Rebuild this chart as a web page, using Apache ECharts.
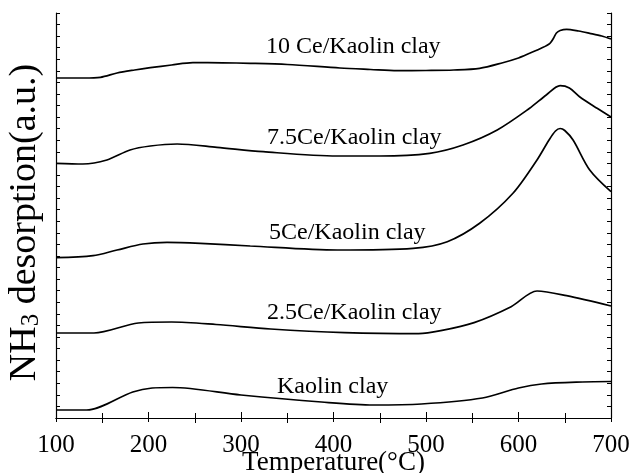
<!DOCTYPE html>
<html><head><meta charset="utf-8">
<script src="https://cdn.jsdelivr.net/npm/echarts@6/dist/echarts.min.js"></script>
<style>html,body{margin:0;padding:0;background:#fff}#c{width:631px;height:473px}</style>
</head><body><div id="c"></div>
<script>
// Temperature (°C) vs NH3 desorption (a.u.)
const ce10 = [[100,340],[130,340],[148,340.7],[166,345],[185,348],[202,350.3],[225,353],[248,355.3],[280,355.2],[310,354.7],[350,353.5],[407,350],[440,348.5],[469,347.3],[500,347.5],[530,348],[558,349.7],[583,355.3],[600,360],[612,364.7],[625,370],[634,374.7],[638,380],[641,385],[645,387.5],[652,388.7],[665,387],[677,384.7],[690,382],[700,379]];
const ce75 = [[100,254.7],[129,254],[155,258],[180,268],[202,272],[231,274],[274,270.7],[324,266.3],[404,262],[450,262],[504,264.7],[540,273],[577,288],[612,309.7],[630,323],[645,332.3],[655,330],[666,321.3],[685,309.7],[700,301]];
const ce5 = [[100,160.3],[140,162.3],[166,168],[194,174],[220,175.7],[256,174.7],[310,172],[404,168],[486,169.7],[523,176.3],[558,194.7],[594,224.7],[620,258],[633,278],[640,287],[645,289.5],[650,287.5],[659,278],[677,248],[700,226.3]];
const ce25 = [[100,85],[141,85],[189,95],[225,96],[273,93.5],[332,89],[412,85.4],[492,84.3],[516,87.3],[552,95.4],[592,111.3],[620,127],[652,122.3],[700,112]];
const kaolin = [[100,8],[133,8],[183,26],[204,30],[226,30.5],[300,23],[387,16],[443,13],[495,14],[561,20],[600,30],[625,34],[669,36],[700,36.5]];
const seriesNames = ['10 Ce/Kaolin clay','7.5Ce/Kaolin clay','5Ce/Kaolin clay','2.5Ce/Kaolin clay','Kaolin clay'];
const xTicks = [100,200,300,400,500,600,700];

const font = '"Liberation Serif","DejaVu Serif",serif';
const chart = echarts.init(document.getElementById('c'));
const yMax = 405;
const mk = (d) => ({type:'line', data:d, symbol:'none', smooth:0.3, lineStyle:{color:'#000', width:1.7}, xAxisIndex:0, yAxisIndex:0});
const xBase = {type:'value', min:100, max:700, interval:100,
  axisLine:{lineStyle:{color:'#000', width:1.2}},
  axisTick:{inside:true, length:6, lineStyle:{color:'#000'}},
  minorTick:{show:true, splitNumber:2, length:5, lineStyle:{color:'#000'}},
  splitLine:{show:false}};
const yBase = {type:'value', min:0, max:yMax, interval:yMax/35,
  axisLine:{show:true, lineStyle:{color:'#000', width:1.2}},
  axisTick:{inside:true, length:4, lineStyle:{color:'#000'}},
  axisLabel:{show:false}, splitLine:{show:false}};
chart.setOption({
  animation:false,
  grid:{left:56, right:20, top:13, bottom:55, containLabel:false, outerBoundsMode:'none'},
  xAxis:[
    Object.assign({}, xBase, {position:'bottom', name:'Temperature(°C)', nameLocation:'middle', nameGap:31, nameMoveOverlap:false,
      nameTextStyle:{fontFamily:font, fontSize:27, color:'#000'},
      axisLabel:{fontFamily:font, fontSize:25, color:'#000', margin:15, formatter:(v)=> xTicks.includes(v)? String(v):''}}),
    Object.assign({}, xBase, {position:'top', axisLabel:{show:false}, axisTick:{inside:true, length:4, lineStyle:{color:'#000'}}})
  ],
  yAxis:[
    Object.assign({}, yBase, {position:'left', name:'{a|NH}{s|3}{a| desorption(a.u.)}', nameLocation:'middle', nameGap:12, nameMoveOverlap:false,
      nameRotate:90,
      nameTextStyle:{padding:[0,14,0,0], rich:{a:{fontFamily:font, fontSize:38, color:'#000'}, s:{fontFamily:font, fontSize:25, color:'#000', verticalAlign:'bottom'}}}}),
    Object.assign({}, yBase, {position:'right'})
  ],
  graphic:[
    {type:'text', left:266, top:35, style:{text:seriesNames[0], font:'24px '+font, fill:'#000'}},
    {type:'text', left:267, top:126, style:{text:seriesNames[1], font:'24px '+font, fill:'#000'}},
    {type:'text', left:269, top:221, style:{text:seriesNames[2], font:'24px '+font, fill:'#000'}},
    {type:'text', left:267, top:301, style:{text:seriesNames[3], font:'24px '+font, fill:'#000'}},
    {type:'text', left:277, top:375, style:{text:seriesNames[4], font:'24px '+font, fill:'#000'}}
  ],
  series:[mk(ce10), mk(ce75), mk(ce5), mk(ce25), mk(kaolin)].map((s,i)=>Object.assign(s,{name:seriesNames[i]}))
});
</script></body></html>
